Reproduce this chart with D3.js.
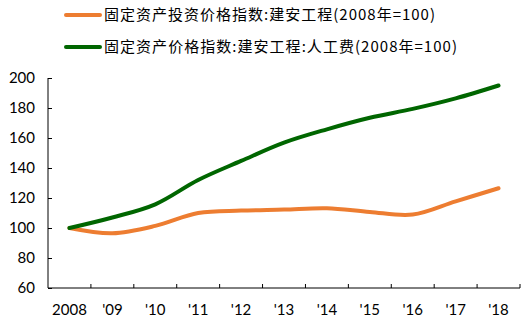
<!DOCTYPE html>
<html><head><meta charset="utf-8">
<script src="https://cdn.jsdelivr.net/npm/d3@7"></script>
<style>
body{margin:0;background:#fff;}
text{font-family:"Gill Sans","Lato","Open Sans",sans-serif;}
.leg{font-family:"Noto Sans CJK SC",sans-serif;}
</style></head>
<body><svg id="c" width="529" height="322"></svg>
<script>
const categories = ["2008","'09","'10","'11","'12","'13","'14","'15","'16","'17","'18"];
const seriesNames = ["固定资产投资价格指数:建安工程(2008年=100)","固定资产价格指数:建安工程:人工费(2008年=100)"];
const orangeValues = [100,96.5,101.4,110,111.6,112.3,113.2,110.7,109,117.8,126.5];
const greenValues = [100,107,115.8,132,144.7,156.9,165.8,173.5,179.4,186.4,195];
const yTicks = [60,80,100,120,140,160,180,200];
const colors = ["#ED7D31","#006600"];
const legendWidths = [331,353];

const svg = d3.select("#c");
const x = d3.scaleBand().domain(categories).range([48,520]);
const y = d3.scaleLinear().domain([60,200]).range([288,78]);

// y axis
const ya = svg.append("g").attr("transform","translate(48,0)")
  .call(d3.axisLeft(y).tickValues(yTicks).tickSize(-4).tickPadding(13));
ya.select(".domain").attr("d","M-0,78V288").attr("stroke","#000");
ya.selectAll("text").attr("font-size",15).attr("fill","#000");

// x axis with ticks at band boundaries
const xa = svg.append("g").attr("transform","translate(0,288)");
xa.append("line").attr("x1",48).attr("x2",520).attr("stroke","#000");
xa.selectAll("line.t").data(categories.slice(1).concat(["end"])).join("line").attr("class","t")
  .attr("x1",(d,i)=>x.range()[0]+(i+1)*x.bandwidth()).attr("x2",(d,i)=>x.range()[0]+(i+1)*x.bandwidth())
  .attr("y1",0).attr("y2",-4).attr("stroke","#000");
xa.selectAll("text").data(categories).join("text")
  .attr("x",d=>x(d)+x.bandwidth()/2).attr("y",27).attr("text-anchor","middle")
  .attr("font-size",15).attr("fill","#000").text(d=>d);

const line = d3.line().x((d,i)=>x(categories[i])+x.bandwidth()/2).y(d=>y(d)).curve(d3.curveCatmullRom.alpha(0.5));
[orangeValues,greenValues].forEach((vals,k)=>{
  svg.append("path").datum(vals).attr("d",line).attr("fill","none")
    .attr("stroke",colors[k]).attr("stroke-width",4).attr("stroke-linecap","round");
});

// legend
seriesNames.forEach((n,k)=>{
  const ly = 15 + k*32;
  svg.append("line").attr("x1",66).attr("x2",100).attr("y1",ly).attr("y2",ly)
    .attr("stroke",colors[k]).attr("stroke-width",4).attr("stroke-linecap","round");
  svg.append("text").attr("class","leg").attr("x",104).attr("y",ly).attr("dy","0.36em")
    .attr("font-size",15).attr("fill","#000")
    .attr("textLength",legendWidths[k]).attr("lengthAdjust","spacing").text(n);
});
</script></body></html>
